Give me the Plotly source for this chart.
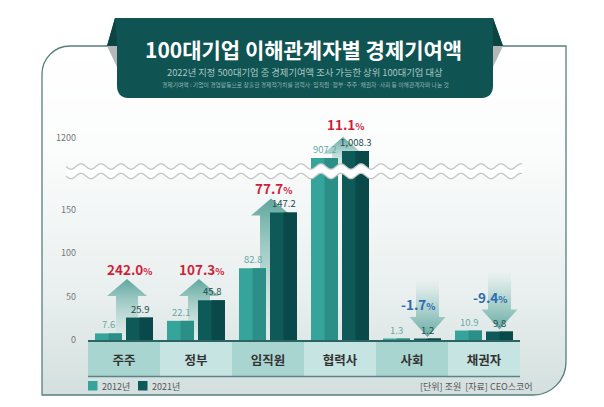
import numpy as np
import plotly.graph_objects as go

# ---------------- data ----------------
categories = ["주주", "정부", "임직원", "협력사", "사회", "채권자"]
values_2012 = [7.6, 22.1, 82.8, 907.2, 1.3, 10.9]
values_2021 = [25.9, 45.8, 147.2, 1008.3, 1.2, 9.8]
change_pct = [242.0, 107.3, 77.7, 11.1, -1.7, -9.4]
year_labels = ["2012년", "2021년"]
lower_ticks = [0, 50, 100, 150]
upper_ticks = [1200]
title = "100대기업 이해관계자별 경제기여액"
subtitle = "2022년 지정 500대기업 중 경제기여액 조사 가능한 상위 100대기업 대상"
footnote = "경제기여액 : 기업이 경영활동으로 창출한 경제적가치를 협력사·임직원·정부·주주·채권자·사회 등 이해관계자와 나눈 것"
source = "[단위] 조원  [자료] CEO스코어"

# ---------------- layout geometry (page pixels) ----------------
PAGE_OFF = 8                 # default body margin of the html page
W, H = 604 - PAGE_OFF, 407 - PAGE_OFF
FONT = "Noto Sans CJK KR"
PLOT_L, PLOT_R = 88, 520
BASE_PX = 340
PX_LO = 130 / 150            # px per unit, lower segment
BREAK_PX = 171.5
TOP_PX = 112
UP_REF_V, UP_REF_PX, PX_HI = 907.2, 158, 0.07   # upper segment scale

lo_range = [0, (BASE_PX - BREAK_PX) / PX_LO]
hi_range = [UP_REF_V - (BREAK_PX - UP_REF_PX) / PX_HI,
            UP_REF_V + (UP_REF_PX - TOP_PX) / PX_HI]
XU = 1 / 72.0   # x data units per pixel


def px(x):
    return (x - PAGE_OFF) / W


def py(y):
    return 1 - (y - PAGE_OFF) / H


def path_px(pts, close=True):
    s = "M" + " L".join(f"{px(x):.5f},{py(y):.5f}" for x, y in pts)
    return s + (" Z" if close else "")


C2012_L, C2012_R = "#35a49a", "#2b8e87"
C2021_L, C2021_R = "#0e5a58", "#0a4949"
LBL2012, LBL2021 = "#66a9a3", "#1c4d4d"
RED, BLUE = "#cf1f3a", "#2c6cb0"

fig = go.Figure()
annotations = []
shapes = []

# ---------------- arrows (behind bars) ----------------
up_scale = [[0, "rgba(175,212,208,0)"], [0.45, "rgba(140,194,188,0.5)"],
            [1, "rgba(86,161,153,0.95)"]]
down_scale = [[0, "rgba(96,166,158,0.95)"], [0.55, "rgba(140,194,188,0.55)"],
              [1, "rgba(175,212,208,0)"]]

for i, (v12, v21, p) in enumerate(zip(values_2012, values_2021, change_pct)):
    upper = v21 > lo_range[1]
    yax = "y2" if upper else "y"
    upx = 1 / PX_HI if upper else 1 / PX_LO
    if p >= 0:
        cx = i + 3 * XU
        tip = v21 + 14 * upx
        if not upper:
            tip = max(tip, 61 * upx)
        bottom = hi_range[0] if upper else 0
        base = tip - 17 * upx
        xs = [cx - 11 * XU, cx - 11 * XU, cx - 20 * XU, cx, cx + 20 * XU,
              cx + 11 * XU, cx + 11 * XU, cx - 11 * XU]
        ys = [bottom, base, base, tip, base, base, bottom, bottom]
        scale = up_scale
        lx, ly, yanch, ysh = i + 5 * XU, tip, "bottom", -2 if not upper else 1
        col = RED
    else:
        cx = i + 15.5 * XU
        tip = v21 + 2 * upx
        base = tip + 20 * upx
        top = tip + 58 * upx
        xs = [cx - 11.5 * XU, cx - 11.5 * XU, cx - 18 * XU, cx, cx + 18 * XU,
              cx + 11.5 * XU, cx + 11.5 * XU, cx - 11.5 * XU]
        ys = [top, base, base, tip, base, base, top, top]
        scale = down_scale
        lx, ly, yanch, ysh = i + 6 * XU, tip, "middle", 33
        col = BLUE
    fig.add_trace(go.Scatter(
        x=xs, y=ys, xaxis="x", yaxis=yax, mode="lines", fill="toself",
        line=dict(width=0), fillgradient=dict(type="vertical", colorscale=scale),
        hoverinfo="skip", showlegend=False))
    annotations.append(dict(
        x=lx, y=ly, xref="x", yref=yax, yanchor=yanch, yshift=ysh,
        showarrow=False,
        text=f"{p:.1f}<span style='font-size:9.5px'>%</span>",
        font=dict(family=FONT, size=13.5, color=col, weight="bold")))

# ---------------- bars (two-tone) ----------------
BW = 27 * XU
specs = [(values_2012, -29 * XU, C2012_L, C2012_R, year_labels[0]),
         (values_2021, 2 * XU, C2021_L, C2021_R, year_labels[1])]
xs_cat = list(range(len(categories)))
for yax in ["y3", "y4"]:
    for vals, off, cl, cr, name in specs:
        fig.add_trace(go.Bar(x=xs_cat, y=vals, xaxis="x2", yaxis=yax, name=name,
                             offset=off, width=BW, marker=dict(color=cl, line=dict(width=0)),
                             showlegend=False, hoverinfo="skip"))
        fig.add_trace(go.Bar(x=xs_cat, y=vals, xaxis="x2", yaxis=yax, name=name,
                             offset=off + BW / 2, width=BW / 2,
                             marker=dict(color=cr, line=dict(width=0)),
                             showlegend=False, hoverinfo="skip"))

# value labels
for vals, dx, col in [(values_2012, -15.5 * XU, LBL2012), (values_2021, 15.5 * XU, LBL2021)]:
    for i, v in enumerate(vals):
        yax = "y4" if v > lo_range[1] else "y3"
        annotations.append(dict(
            x=i + dx, y=v, xref="x2", yref=yax, yanchor="bottom", yshift=0,
            showarrow=False, text=f"{v:,.1f}",
            font=dict(family=FONT, size=9.5, color=col)))

# ---------------- background panel ----------------
stops = [(46, (255, 255, 255)), (150, (251, 252, 252)), (300, (232, 239, 238)),
         (395, (211, 223, 222))]


def bg_color(y):
    for (y0, c0), (y1, c1) in zip(stops[:-1], stops[1:]):
        if y0 <= y <= y1:
            t = (y - y0) / (y1 - y0)
            return "rgb(%d,%d,%d)" % tuple(round(a + (b - a) * t) for a, b in zip(c0, c1))
    return "rgb(%d,%d,%d)" % stops[-1][1]


step = 4
for y in np.arange(46, 395, step):
    shapes.append(dict(type="rect", xref="paper", yref="paper", layer="below",
                       x0=px(42), x1=px(566), y0=py(min(y + step + 1, 395)), y1=py(y),
                       fillcolor=bg_color(y + step / 2), line=dict(width=0)))

K = 0.5523
r1, r2 = 28, 33
# corner masks
shapes.append(dict(type="path", xref="paper", yref="paper", layer="below",
                   path=(f"M{px(40)},{py(44)} L{px(42 + r1)},{py(44)} L{px(42 + r1)},{py(46)} "
                         f"C{px(42 + r1 - K * r1)},{py(46)} {px(42)},{py(46 + r1 - K * r1)} {px(42)},{py(46 + r1)} "
                         f"L{px(40)},{py(46 + r1)} Z"),
                   fillcolor="white", line=dict(width=0)))
shapes.append(dict(type="path", xref="paper", yref="paper", layer="below",
                   path=(f"M{px(566)},{py(395 - r2)} C{px(566)},{py(395 - r2 + K * r2)} "
                         f"{px(566 - r2 + K * r2)},{py(395)} {px(566 - r2)},{py(395)} "
                         f"L{px(566 - r2)},{py(398)} L{px(569)},{py(398)} L{px(569)},{py(395 - r2)} Z"),
                   fillcolor="white", line=dict(width=0)))

# category bands
band_cols = ["#a9d5d1", "#c6e4e1"]
for i in range(len(categories)):
    shapes.append(dict(type="rect", xref="x2", yref="paper", layer="below",
                       x0=i - 0.5, x1=i + 0.5, y0=py(376), y1=py(341),
                       fillcolor=band_cols[i % 2], line=dict(width=0)))
shapes.append(dict(type="line", xref="paper", yref="paper", layer="below",
                   x0=px(PLOT_L), x1=px(PLOT_R), y0=py(376.5), y1=py(376.5),
                   line=dict(color="#5d8484", width=1.3)))

# panel border
shapes.append(dict(type="path", xref="paper", yref="paper", layer="below",
                   path=(f"M{px(300)},{py(46)} L{px(42 + r1)},{py(46)} "
                         f"C{px(42 + r1 - K * r1)},{py(46)} {px(42)},{py(46 + r1 - K * r1)} {px(42)},{py(46 + r1)} "
                         f"L{px(42)},{py(395)} L{px(566 - r2)},{py(395)} "
                         f"C{px(566 - r2 + K * r2)},{py(395)} {px(566)},{py(395 - r2 + K * r2)} {px(566)},{py(395 - r2)} "
                         f"L{px(566)},{py(46)} L{px(300)},{py(46)}"),
                   fillcolor="rgba(0,0,0,0)", line=dict(color="#55807e", width=1.3)))

# title banner
shapes.append(dict(type="path", xref="paper", yref="paper", layer="below",
                   path=(f"M{px(115)},{py(18)} L{px(493)},{py(18)} L{px(503)},{py(46)} L{px(493)},{py(46)} "
                         f"L{px(493)},{py(86)} C{px(493)},{py(93)} {px(489)},{py(98)} {px(482)},{py(98)} "
                         f"L{px(128)},{py(98)} C{px(121)},{py(98)} {px(117)},{py(93)} {px(117)},{py(86)} "
                         f"L{px(117)},{py(46)} L{px(107)},{py(46)} Z"),
                   fillcolor="#0f5453", line=dict(width=0)))
for pts in ([(107, 46), (117, 46), (117, 67)], [(503, 46), (493, 46), (493, 67)]):
    shapes.append(dict(type="path", xref="paper", yref="paper", layer="below",
                       path=path_px(pts), fillcolor="#b4b8b8", line=dict(width=0)))
shapes.append(dict(type="path", xref="paper", yref="paper", layer="below",
                   path=path_px([(115, 18), (107, 46), (117, 46)]), fillcolor="#0a4544",
                   line=dict(width=0)))
shapes.append(dict(type="path", xref="paper", yref="paper", layer="below",
                   path=path_px([(493, 18), (503, 46), (493, 46)]), fillcolor="#0a4544",
                   line=dict(width=0)))

# axis break wave
def wave(yc, x0=66, x1=522, A=2.7, P=20.0):
    xs = np.arange(x0, x1 + 0.5, 1.0)
    ys = yc + A * np.sin(2 * np.pi * (xs - x0) / P)
    return list(zip(xs, ys))


w_top = wave(166.5)
w_bot = wave(176.0)
shapes.append(dict(type="path", xref="paper", yref="paper", layer="above",
                   path=path_px(w_top + w_bot[::-1]), fillcolor="white", line=dict(width=0)))
for w in (w_top, w_bot):
    shapes.append(dict(type="path", xref="paper", yref="paper", layer="above",
                       path=path_px(w, close=False), fillcolor="rgba(0,0,0,0)",
                       line=dict(color="#c3c6c6", width=1.3)))

# legend squares
for (x0, col) in [(88, C2012_L), (138, C2021_L)]:
    shapes.append(dict(type="rect", xref="paper", yref="paper", layer="above",
                       x0=px(x0), x1=px(x0 + 9.5), y0=py(390.5), y1=py(381),
                       fillcolor=col, line=dict(width=0)))
for x0, t in [(100, year_labels[0]), (150, year_labels[1])]:
    annotations.append(dict(x=px(x0), y=py(386), xref="paper", yref="paper",
                            xanchor="left", yanchor="middle", showarrow=False, text=t,
                            font=dict(family=FONT, size=9, color="#555")))
annotations.append(dict(x=px(534), y=py(386), xref="paper", yref="paper",
                        xanchor="right", yanchor="middle", showarrow=False, text=source,
                        font=dict(family=FONT, size=9, color="#555")))

# titles
annotations.append(dict(x=px(303), y=py(49), xref="paper", yref="paper", showarrow=False,
                        xanchor="center", yanchor="middle", text=title,
                        font=dict(family=FONT, size=21, color="white", weight="bold")))
annotations.append(dict(x=px(305), y=py(72), xref="paper", yref="paper", showarrow=False,
                        xanchor="center", yanchor="middle", text=subtitle,
                        font=dict(family=FONT, size=9.3, color="#a9c7c4")))
annotations.append(dict(x=px(305), y=py(84), xref="paper", yref="paper", showarrow=False,
                        xanchor="center", yanchor="middle", text=footnote,
                        font=dict(family=FONT, size=5.8, color="#92b5b2")))

xdom = [px(PLOT_L), px(PLOT_R)]
lo_dom = [py(BASE_PX), py(BREAK_PX)]
hi_dom = [py(BREAK_PX), py(TOP_PX)]
hidden = dict(visible=False, showgrid=False, zeroline=False, fixedrange=True)
tickfont = dict(family=FONT, size=9, color="#777")

fig.update_layout(
    width=W, height=H, margin=dict(l=0, r=0, t=0, b=0),
    paper_bgcolor="white", plot_bgcolor="rgba(0,0,0,0)",
    barmode="overlay", showlegend=False,
    xaxis=dict(domain=xdom, range=[-0.5, 5.5], anchor="y", **hidden),
    yaxis=dict(domain=lo_dom, range=lo_range, anchor="x", **hidden),
    yaxis2=dict(domain=hi_dom, range=hi_range, anchor="x", **hidden),
    xaxis2=dict(domain=xdom, range=[-0.5, 5.5], anchor="y3", tickmode="array",
                tickvals=xs_cat, ticktext=categories, showgrid=False, zeroline=False,
                showline=True, linecolor="#2c6464", linewidth=1.6, ticks="",
                ticklabelstandoff=8, automargin=False,
                tickfont=dict(family=FONT, size=12.5, color="#333", weight="bold")),
    yaxis3=dict(domain=lo_dom, range=lo_range, anchor="x2", tickmode="array",
                tickvals=lower_ticks, showgrid=False, zeroline=False, showline=False,
                ticks="", ticklabelstandoff=11, automargin=False, tickfont=tickfont),
    yaxis4=dict(domain=hi_dom, range=hi_range, anchor="x2", tickmode="array",
                tickvals=upper_ticks, showgrid=False, zeroline=False, showline=False,
                ticks="", ticklabelstandoff=11, automargin=False, tickfont=tickfont),
    shapes=shapes, annotations=annotations,
)

fig.write_html("out.html")
